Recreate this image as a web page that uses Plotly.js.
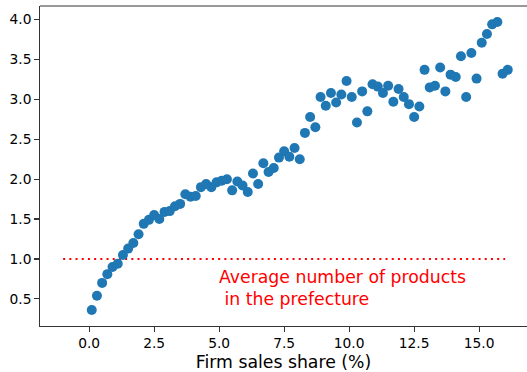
<!DOCTYPE html>
<html>
<head>
<meta charset="utf-8">
<script src="https://cdn.plot.ly/plotly-3.0.1.min.js"></script>
<style>
  html, body { margin: 0; padding: 0; background: #fff; overflow: hidden; }
  #chart { width: 527px; height: 372px; }
</style>
</head>
<body>
<div id="chart"></div>
<script>
// Firm sales share (%) bins
const salesShare = [
  0.1, 0.3, 0.5, 0.7, 0.9, 1.1, 1.3, 1.5, 1.7, 1.9,
  2.1, 2.3, 2.5, 2.7, 2.9, 3.1, 3.3, 3.5, 3.7, 3.9,
  4.1, 4.3, 4.5, 4.7, 4.9, 5.1, 5.3, 5.5, 5.7, 5.9,
  6.1, 6.3, 6.5, 6.7, 6.9, 7.1, 7.3, 7.5, 7.7, 7.9,
  8.1, 8.3, 8.5, 8.7, 8.9, 9.1, 9.3, 9.5, 9.7, 9.9,
  10.1, 10.3, 10.5, 10.7, 10.9, 11.1, 11.3, 11.5, 11.7, 11.9,
  12.1, 12.3, 12.5, 12.7, 12.9, 13.1, 13.3, 13.5, 13.7, 13.9,
  14.1, 14.3, 14.5, 14.7, 14.9, 15.1, 15.3, 15.5, 15.7, 15.9,
  16.1
];
// Number of products (relative)
const numProducts = [
  0.36, 0.54, 0.70, 0.81, 0.90, 0.94, 1.05, 1.13, 1.20, 1.31,
  1.44, 1.49, 1.55, 1.50, 1.59, 1.60, 1.66, 1.69, 1.81, 1.78,
  1.79, 1.90, 1.94, 1.90, 1.96, 1.98, 2.00, 1.86, 1.97, 1.92,
  1.84, 2.07, 1.94, 2.20, 2.09, 2.14, 2.27, 2.35, 2.28, 2.39,
  2.25, 2.58, 2.78, 2.65, 3.03, 2.92, 3.08, 2.96, 3.06, 3.23,
  3.03, 2.71, 3.10, 2.85, 3.19, 3.16, 3.08, 3.17, 2.97, 3.13,
  3.03, 2.94, 2.78, 2.91, 3.37, 3.15, 3.17, 3.40, 3.10, 3.31,
  3.28, 3.54, 3.03, 3.58, 3.26, 3.71, 3.82, 3.94, 3.97, 3.32,
  3.37
];
// Reference line: average number of products in the prefecture
const avgLineX = [-1, 16];
const avgLineY = [1.0, 1.0];
const avgLabel = "Average number of products<br>\u00a0in the prefecture";
const xTickVals = [0, 2.5, 5, 7.5, 10, 12.5, 15];
const yTickVals = [0.5, 1.0, 1.5, 2.0, 2.5, 3.0, 3.5, 4.0];
const xTitle = "Firm sales share (%)";

const FONT = "DejaVu Sans, Verdana, sans-serif";

const traces = [
  {
    x: avgLineX, y: avgLineY, type: "scatter", mode: "lines",
    line: { color: "#ff0000", width: 2, dash: "2px,4.2px" },
    hoverinfo: "skip", showlegend: false
  },
  {
    x: salesShare, y: numProducts, type: "scatter", mode: "markers",
    marker: { color: "#1f77b4", size: 10, line: { width: 0 } },
    showlegend: false
  }
];

const layout = {
  width: 527, height: 372,
  margin: { l: 40, r: 0, t: 6, b: 46, pad: 0 },
  paper_bgcolor: "#ffffff", plot_bgcolor: "#ffffff",
  font: { family: FONT, color: "#000000", size: 13.8 },
  showlegend: false,
  xaxis: {
    range: [-1.89, 16.84],
    tickvals: xTickVals, tickformat: ".1f",
    ticks: "outside", ticklen: 4.5, tickwidth: 1.2, tickcolor: "#333",
    showline: true, linecolor: "#333", linewidth: 1.2, mirror: false,
    showgrid: false, zeroline: false,
    tickfont: { family: FONT, size: 13.8, color: "#000" },
    title: { text: xTitle, font: { family: FONT, size: 17.3, color: "#000" }, standoff: 6 },
    automargin: false
  },
  yaxis: {
    range: [0.16, 4.17],
    tickvals: yTickVals, tickformat: ".1f",
    ticks: "outside", ticklen: 4.5, tickwidth: 1.2, tickcolor: "#333",
    showline: true, linecolor: "#333", linewidth: 1.2, mirror: false,
    showgrid: false, zeroline: false,
    tickfont: { family: FONT, size: 13.8, color: "#000" },
    automargin: false
  },
  shapes: [
    { type: "line", xref: "paper", yref: "paper", x0: 0, x1: 1, y0: 1, y1: 1,
      line: { color: "#333", width: 1.2 } }
  ],
  annotations: [
    {
      text: avgLabel, xref: "x", yref: "y", x: 4.9, y: 0.63,
      xanchor: "left", yanchor: "middle", align: "left", showarrow: false,
      font: { family: FONT, size: 17.3, color: "#ff0000" }
    }
  ]
};

Plotly.newPlot("chart", traces, layout, { displayModeBar: false, staticPlot: true });
</script>
</body>
</html>
